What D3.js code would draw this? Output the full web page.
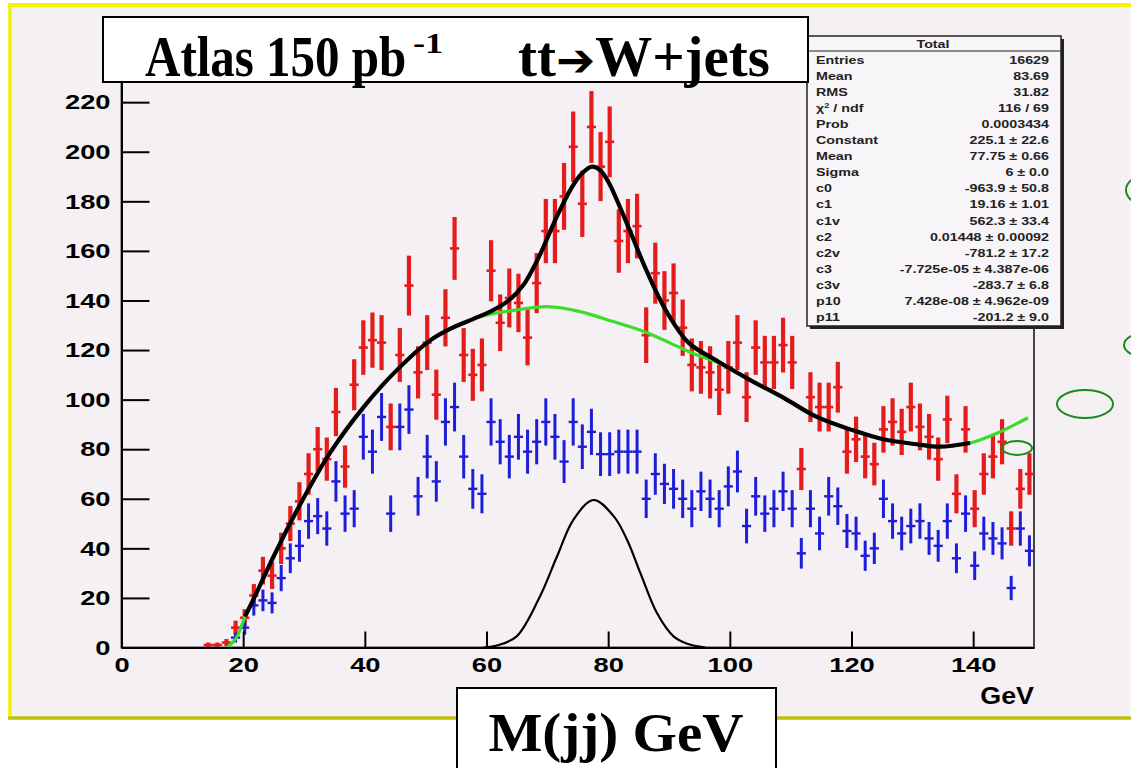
<!DOCTYPE html>
<html>
<head>
<meta charset="utf-8">
<script src="https://cdn.jsdelivr.net/npm/d3@7"></script>
<style>
  body { margin: 0; background: #fff; }
  text { font-family: "Liberation Sans", Arial, sans-serif; font-weight: bold; }
</style>
</head>
<body>
<svg id="chart" width="1131" height="768"></svg>
<script>
// M(jj) histogram, 100 bins of 1.5 GeV from 0 to 150
const binEdges = d3.range(0, 150, 1.5);
const binWidth = 1.5;

// red: all events (fitted), blue: W+jets
const totalCounts = [
  0,0,0,0,0,0,0,0,0,1,
  1,2,8,12,21,31,29,40,50,59,
  70,80,76,95,73,106,121,124,123,89,
  118,146,111,123,102,133,161,118,110,114,
  152,131,141,139,125,147,168,168,182,202,
  179,210,194,204,164,168,170,126,151,140,
  143,129,114,113,111,104,113,123,101,121,
  115,115,122,115,72,101,97,97,105,79,
  84,77,74,88,91,87,97,89,85,76,
  92,62,88,56,70,77,83,48,64,70
];
const wjetsCounts = [
  0,0,0,0,0,0,0,0,0,0,
  0,0,4,8,17,19,18,28,36,41,
  51,53,48,67,54,56,85,79,93,54,
  89,96,61,77,67,91,97,77,64,62,
  91,83,77,85,79,83,91,85,75,91,
  81,87,78,78,79,79,79,60,70,66,
  64,60,56,63,60,56,65,71,49,61,
  54,56,63,56,38,56,46,61,57,47,
  46,37,40,60,51,46,49,51,44,41,
  51,36,54,33,46,44,42,24,48,39
];

// fit curves: [GeV, entries]
const fitCurve = [
  [20.3,12.5],[22,21],[25,36.7],[28.9,55.6],[34.3,78.6],[39.8,97],[45.3,112],[50.8,124],
  [54,128.5],[57.8,132.5],[60.6,135.5],[63.4,139.5],[66,146],[68.5,157],[71.6,174],[74,185.5],
  [75.6,191],[77.3,194],[78.7,192.5],[80,188],[83,171.5],[86.4,151.5],[89.6,135.5],
  [93.2,123],[98,115.5],[103.3,108],[108.8,100.8],[114.3,93],[119.8,88],[125.2,84],
  [130.7,82],[134.5,81],[139.5,82.5]
];
const bkgCurve = [
  [17.4,0],[19,4.4],[20.3,12.5],[22,21],[25,36.7],[28.9,55.6],[34.3,78.6],[39.8,97],
  [45.3,112],[50.8,124],[54,128.5],[57.8,132.5],[60.6,134.5],[64.4,136],[70,137.5],
  [75.4,135.5],[80.8,131.5],[86.4,127],[91.8,121],[94.6,118],[98,115],[103.3,108],
  [108.8,100.8],[114.3,93],[119.8,88],[125.2,84],[130.7,82],[134.5,81],[139.5,82.5],
  [144.4,87],[149,92.7]
];
const gausCurve = [
  [59.5,0],[62,1],[65,4.6],[68.8,20.7],[71.6,36.8],[74.3,51.6],[77.6,59.5],[80.9,53],
  [83.1,43.5],[85.3,30],[88,14],[90.7,4.6],[93,1.5],[96,0]
];

const xTicks = [0, 20, 40, 60, 80, 100, 120, 140];
const xMinor = d3.range(0, 150, 5);
const yTicks = [0, 20, 40, 60, 80, 100, 120, 140, 160, 180, 200, 220];
const yMinor = d3.range(0, 241, 5);

const statLabels = ["Entries","Mean","RMS","\u03c7\u00b2 / ndf","Prob","Constant","Mean","Sigma",
  "c0","c1","c1v","c2","c2v","c3","c3v","p10","p11"];
const statValues = ["16629","83.69","31.82","116 / 69","0.0003434","225.1 \u00b1 22.6","77.75 \u00b1 0.66",
  "6 \u00b1 0.0","-963.9 \u00b1 50.8","19.16 \u00b1 1.01","562.3 \u00b1 33.4","0.01448 \u00b1 0.00092",
  "-781.2 \u00b1 17.2","-7.725e-05 \u00b1 4.387e-06","-283.7 \u00b1 6.8","7.428e-08 \u00b1 4.962e-09",
  "-201.2 \u00b1 9.0"];

const svg = d3.select("#chart");

// slide panel
svg.append("rect").attr("x", 10).attr("y", 5).attr("width", 1125).attr("height", 713)
  .attr("fill", "#f4f0f4");
svg.append("line").attr("x1", 8).attr("x2", 1131).attr("y1", 5).attr("y2", 5)
  .attr("stroke", "#f4f400").attr("stroke-width", 4);
svg.append("line").attr("x1", 10).attr("x2", 10).attr("y1", 5).attr("y2", 719)
  .attr("stroke", "#f2f200").attr("stroke-width", 3.5);
svg.append("line").attr("x1", 8).attr("x2", 1131).attr("y1", 718).attr("y2", 718)
  .attr("stroke", "#c2c20c").attr("stroke-width", 3.5);

const x = d3.scaleLinear().domain([0, 150]).range([121.5, 1034]);
const y = d3.scaleLinear().domain([0, 245]).range([647.5, 40.2]);

// frame
svg.append("rect").attr("x", x(0)).attr("y", y(245)).attr("width", x(150) - x(0))
  .attr("height", y(0) - y(245)).attr("fill", "none").attr("stroke", "#444").attr("stroke-width", 2);

// data points with error bars
function drawHist(counts, color, vw, hw) {
  const pts = counts.map((v, i) => ({lo: binEdges[i], v: v})).filter(d => d.v > 0);
  const g = svg.append("g").attr("stroke", color);
  g.selectAll(".v").data(pts).enter().append("line")
    .attr("x1", d => x(d.lo + binWidth / 2)).attr("x2", d => x(d.lo + binWidth / 2))
    .attr("y1", d => y(d.v - Math.sqrt(d.v))).attr("y2", d => y(d.v + Math.sqrt(d.v)))
    .attr("stroke-width", vw);
  g.selectAll(".h").data(pts).enter().append("line")
    .attr("x1", d => x(d.lo)).attr("x2", d => x(d.lo + binWidth))
    .attr("y1", d => y(d.v)).attr("y2", d => y(d.v))
    .attr("stroke-width", hw);
}
drawHist(totalCounts, "#e41c1c", 4.2, 2.6);
drawHist(wjetsCounts, "#1e1ed8", 3, 2.4);

// curves
const line = d3.line().x(d => x(d[0])).y(d => y(d[1])).curve(d3.curveCatmullRom.alpha(0.5));
svg.append("path").attr("d", line(bkgCurve)).attr("fill", "none")
  .attr("stroke", "#3ade2a").attr("stroke-width", 3.2);
svg.append("path").attr("d", line(fitCurve)).attr("fill", "none")
  .attr("stroke", "#000").attr("stroke-width", 4.2);
svg.append("path").attr("d", line(gausCurve)).attr("fill", "none")
  .attr("stroke", "#000").attr("stroke-width", 2.2);

// axes
const gx = svg.append("g").attr("transform", `translate(0,${y(0)})`);
gx.call(d3.axisBottom(x).tickValues(xMinor).tickSize(-7).tickSizeOuter(0).tickFormat(""));
gx.call(d3.axisBottom(x).tickValues(xTicks).tickSize(-16).tickSizeOuter(0).tickPadding(10));
gx.selectAll("path, line").attr("stroke", "#000").attr("stroke-width", 2);
gx.selectAll("text").attr("font-size", 21).attr("fill", "#000").attr("transform", "scale(1.3,1)");

const gy = svg.append("g").attr("transform", `translate(${x(0)},0)`);
gy.call(d3.axisLeft(y).tickValues(yMinor).tickSize(-13).tickSizeOuter(0).tickFormat(""));
gy.call(d3.axisLeft(y).tickValues(yTicks).tickSize(-28).tickSizeOuter(0).tickPadding(11));
gy.selectAll("path, line").attr("stroke", "#000").attr("stroke-width", 2);
gy.selectAll("text").attr("font-size", 21).attr("fill", "#000")
  .attr("x", -11 / 1.3).attr("transform", "scale(1.3,1)");

svg.append("text").attr("transform", "translate(1034,704) scale(1.12,1)")
  .attr("text-anchor", "end").attr("font-size", 24).text("GeV");

// stats box
const sb = {x: 807, y: 36, w: 254, h: 290};
svg.append("rect").attr("x", sb.x + 3).attr("y", sb.y + 3).attr("width", sb.w).attr("height", sb.h)
  .attr("fill", "#222");
svg.append("rect").attr("x", sb.x).attr("y", sb.y).attr("width", sb.w).attr("height", sb.h)
  .attr("fill", "#f7f5f7").attr("stroke", "#222").attr("stroke-width", 1.5);
svg.append("line").attr("x1", sb.x).attr("x2", sb.x + sb.w).attr("y1", 51).attr("y2", 51)
  .attr("stroke", "#222").attr("stroke-width", 1.2);
svg.append("text").attr("transform", "translate(933,47.5) scale(1.3,1)")
  .attr("text-anchor", "middle").attr("font-size", 11).attr("fill", "#222").text("Total");
const rows = svg.append("g").attr("fill", "#222").attr("font-size", 11);
statLabels.forEach((lab, i) => {
  const by = 63.5 + i * 16.1;
  const t = rows.append("text").attr("transform", `translate(816,${by}) scale(1.3,1)`);
  if (lab.indexOf("\u00b2") >= 0) {
    t.append("tspan").text("\u03c7");
    t.append("tspan").attr("font-size", 7).attr("dy", -4).text("2");
    t.append("tspan").attr("dy", 4).text(" / ndf");
  } else {
    t.text(lab);
  }
  rows.append("text").attr("transform", `translate(1049,${by}) scale(1.3,1)`)
    .attr("text-anchor", "end").text(statValues[i]);
});

// title box
const serif = "'Liberation Serif', 'Times New Roman', serif";
svg.append("rect").attr("x", 103).attr("y", 17).attr("width", 705).attr("height", 65)
  .attr("fill", "#fff").attr("stroke", "#000").attr("stroke-width", 2);
svg.append("text").attr("transform", "translate(145,76) scale(0.98,1.12)")
  .style("font-family", serif).attr("font-size", 50).text("Atlas 150 pb");
svg.append("text").attr("transform", "translate(413,53) scale(1.3,1.05)")
  .style("font-family", serif).attr("font-size", 28).text("-1");
const t2 = svg.append("text").attr("x", 518).attr("y", 76).style("font-family", serif)
  .attr("font-size", 56).attr("textLength", 252).attr("lengthAdjust", "spacingAndGlyphs");
t2.append("tspan").text("tt");
t2.append("tspan").style("font-family", "'DejaVu Sans'").attr("font-size", 46).text("\u2794");
t2.append("tspan").text("W+jets");

// axis title box
svg.append("rect").attr("x", 457).attr("y", 688).attr("width", 319).attr("height", 95)
  .attr("fill", "#fff").attr("stroke", "#000").attr("stroke-width", 2);
svg.append("text").attr("x", 616).attr("y", 751).attr("text-anchor", "middle")
  .style("font-family", serif).attr("font-size", 55)
  .attr("textLength", 255).attr("lengthAdjust", "spacingAndGlyphs").text("M(jj) GeV");

// green annotation ellipses
const ellipses = [[1085, 404, 28, 14], [1017, 448, 15, 7], [1150, 190, 24, 16], [1150, 345, 26, 13]];
svg.selectAll(".ell").data(ellipses).enter().append("ellipse")
  .attr("cx", d => d[0]).attr("cy", d => d[1]).attr("rx", d => d[2]).attr("ry", d => d[3])
  .attr("fill", "none").attr("stroke", "#1a8a1a").attr("stroke-width", 2);
</script>
</body>
</html>
